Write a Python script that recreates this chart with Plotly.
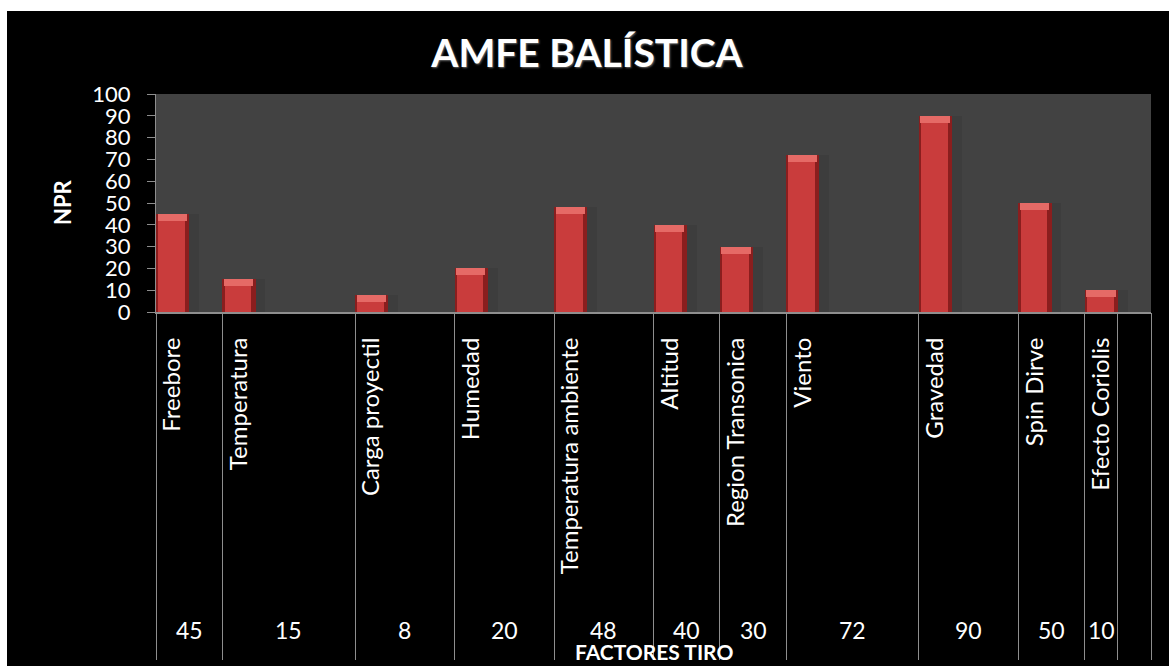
import plotly.graph_objects as go
import numpy as np

# ---------------- data ----------------
categories = ["Freebore", "Temperatura", "Carga proyectil", "Humedad",
              "Temperatura ambiente", "Altitud", "Region Transonica",
              "Viento", "Gravedad", "Spin Dirve", "Efecto Coriolis"]
npr = [45, 15, 8, 20, 48, 40, 30, 72, 90, 50, 10]
y_ticks = [0, 10, 20, 30, 40, 50, 60, 70, 80, 90, 100]

# ---------------- layout constants ----------------
slot_spans = [2, 4, 3, 3, 3, 2, 2, 4, 3, 2, 1]   # width of each category column (axis units)
trailing_span = 1                                # empty column at the right end
bar_width = 1.0

W, H = 1169, 666
ML, MR, MT, MB = 156, 18, 94, 354
PW, PH = W - ML - MR, H - MT - MB

FONT = "Lato"
GRAY = "#8e8e8e"

starts = np.concatenate([[0], np.cumsum(slot_spans)[:-1]])
edges = list(np.concatenate([[0], np.cumsum(slot_spans), [sum(slot_spans) + trailing_span]]))
x_end = edges[-1]
bar_centers = [s + bar_width / 2 for s in starts]
col_centers = [(edges[i] + edges[i + 1]) / 2 for i in range(len(categories))]


def px_x(px):
    return (px - ML) / PW


def px_y(py):
    return (H - MB - py) / PH


fig = go.Figure()

# soft shadow
fig.add_trace(go.Bar(x=starts, y=npr, width=bar_width * 1.3, offset=0,
                     marker=dict(color="rgba(20,20,20,0.10)", line=dict(width=0)),
                     hoverinfo="skip", showlegend=False))
# dark edge body
fig.add_trace(go.Bar(x=starts, y=npr, width=bar_width, offset=0,
                     marker=dict(color="#8a1e1e", line=dict(width=0)),
                     showlegend=False))
# lighter core
fig.add_trace(go.Bar(x=[s + 0.07 for s in starts], y=npr, width=bar_width * 0.8, offset=0,
                     marker=dict(color="#c93c3c", line=dict(width=0)),
                     hoverinfo="skip", showlegend=False))
# top bevel highlight
bevel = 3.2
fig.add_trace(go.Bar(x=[s + 0.05 for s in starts], y=[bevel] * len(npr),
                     base=[v - bevel for v in npr], width=bar_width * 0.88, offset=0,
                     marker=dict(color="#e56a66", line=dict(width=0)),
                     hoverinfo="skip", showlegend=False))

# values row under the labels
for cx, v in zip(col_centers, npr):
    fig.add_annotation(x=cx, xref="x", y=px_y(630), yref="paper", text=str(v),
                       showarrow=False, yanchor="middle",
                       font=dict(family=FONT, size=23, color="white"))

# axis titles
fig.add_annotation(x=15, xref="x", y=px_y(651), yref="paper", text="FACTORES TIRO",
                   showarrow=False, yanchor="middle",
                   font=dict(family=FONT, size=21, color="white", weight="bold"))
fig.add_annotation(x=px_x(62), xref="paper", y=px_y(202), yref="paper", text="NPR",
                   showarrow=False, textangle=-90, xanchor="center", yanchor="middle",
                   font=dict(family=FONT, size=22, color="white", weight="bold"))

# white page strips (top & left)
fig.add_shape(type="rect", xref="paper", yref="paper", layer="above",
              x0=px_x(-2), x1=px_x(W + 2), y0=px_y(11), y1=px_y(-2),
              fillcolor="white", line=dict(width=0))
fig.add_shape(type="rect", xref="paper", yref="paper", layer="above",
              x0=px_x(-2), x1=px_x(7), y0=px_y(H + 2), y1=px_y(-2),
              fillcolor="white", line=dict(width=0))

fig.update_layout(
    width=W, height=H, autosize=False,
    margin=dict(l=ML, r=MR, t=MT, b=MB, pad=0, autoexpand=False),
    paper_bgcolor="black", plot_bgcolor="#424242",
    barmode="overlay", bargap=0,
    title=dict(text="AMFE BALÍSTICA", x=587 / W, xref="container", xanchor="center",
               y=1 - 53 / H, yref="container", yanchor="middle",
               font=dict(family=FONT, size=39, color="white", weight="bold",
                         shadow="1px 1px 2px #666")),
    xaxis=dict(range=[0, x_end], tickmode="array", tickvals=bar_centers, ticktext=categories,
               tickangle=-90, ticks="", showgrid=False, zeroline=False, automargin=False,
               showline=True, linecolor=GRAY, linewidth=2,
               ticklabelstandoff=14,
               tickfont=dict(family=FONT, size=24, color="white")),
    xaxis2=dict(overlaying="x", side="bottom", range=[0, x_end], tickmode="array",
                tickvals=edges, ticks="outside", ticklen=347, tickwidth=1, tickcolor=GRAY,
                showticklabels=False, showgrid=False, zeroline=False, showline=False,
                automargin=False),
    yaxis=dict(range=[0, 100], tickmode="array", tickvals=y_ticks,
               ticks="outside", ticklen=8, tickcolor=GRAY, tickwidth=1,
               showline=True, linecolor=GRAY, linewidth=1, automargin=False,
               showgrid=False, zeroline=False, ticklabelstandoff=12,
               tickfont=dict(family=FONT, size=22, color="white")),
)

# attach a transparent trace to xaxis2 so the overlaying axis is drawn
fig.add_trace(go.Scatter(x=[0, x_end], y=[0, 0], xaxis="x2", mode="markers",
                         marker=dict(opacity=0), hoverinfo="skip", showlegend=False))

fig.write_html("out.html")
